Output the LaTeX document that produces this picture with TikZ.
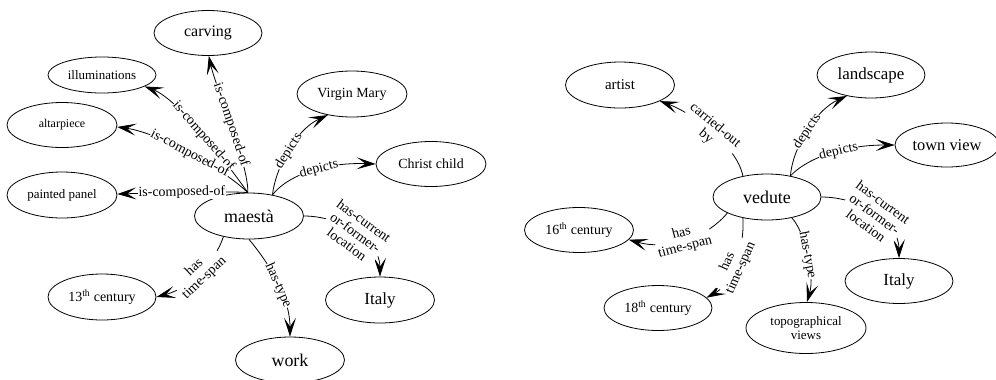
\documentclass[tikz,border=0pt]{standalone}
\usepackage{fontspec}
\setmainfont{Liberation Serif}
\usetikzlibrary{shapes.geometric,arrows.meta}
\newcommand{\fs}[1]{\fontsize{#1}{#1}\selectfont}
\begin{document}
\begin{tikzpicture}[x=1bp,y=-1bp,
  nd/.style={ellipse,draw,line width=0.8bp,inner sep=0pt,minimum width=109bp,minimum height=46bp,align=center},
  edge/.style={line width=0.8bp,-{Stealth[length=19pt,width=12pt,inset=9pt]}},
  lbl/.style={sloped,fill=white,inner sep=0.5bp,align=center,font=\fontsize{14}{14.5}\selectfont},
  ]
\useasboundingbox (0,0) rectangle (996,379);
% left graph
\node[nd,font=\fs{18}] (maesta) at (249,216) {maestà};
\node[nd,minimum width=108bp,minimum height=45bp,font=\fs{16}] (carving) at (208,33) {carving};
\node[nd,minimum width=108bp,minimum height=36bp,font=\fs{13}] (illum) at (102,75) {illuminations};
\node[nd,minimum width=110bp,minimum height=45bp,font=\fs{12}] (altar) at (62,125) {altarpiece};
\node[nd,minimum width=110bp,minimum height=46bp,font=\fs{13}] (painted) at (62,195) {painted panel};
\node[nd,minimum width=110bp,minimum height=46bp,font=\fs{14}] (virgin) at (352,94) {Virgin Mary};
\node[nd,minimum width=110bp,minimum height=45bp,font=\fs{14}] (christ) at (431,164) {Christ child};
\node[nd,font=\fs{17}] (italyL) at (380,300) {Italy};
\node[nd,font=\fs{18}] (work) at (290,360) {work};
\node[nd,minimum width=108bp,font=\fs{14}] (c13) at (102,297) {13\textsuperscript{th} century};
% right graph
\node[nd,minimum width=108bp,font=\fs{18}] (vedute) at (767,197) {vedute};
\node[nd,font=\fs{15}] (artist) at (620,85) {artist};
\node[nd,minimum width=108bp,font=\fs{17}] (landscape) at (871,75) {landscape};
\node[nd,minimum width=104bp,minimum height=44bp,font=\fs{16.5}] (townview) at (947,145) {town view};
\node[nd,minimum height=45bp,font=\fs{14}] (c16) at (579,230) {16\textsuperscript{th} century};
\node[nd,minimum width=108bp,minimum height=45bp,font=\fs{14}] (c18) at (658,308) {18\textsuperscript{th} century};
\node[nd,minimum width=120bp,minimum height=51bp,font=\fontsize{13}{14}\selectfont] (topo) at (806,328) {topographical\\views};
\node[nd,minimum width=108bp,minimum height=45bp,font=\fs{17}] (italyR) at (899,281) {Italy};
% left edges
\draw[edge] (maesta.93) .. controls (249,165) and (215,85) .. (carving.-88) node[lbl,pos=0.5] {is-composed-of};
\draw[edge] (maesta.93) .. controls (232,170) and (180,100) .. (illum.-15) node[lbl,pos=0.5] {is-composed-of};
\draw[edge] (maesta.93) .. controls (225,170) and (160,133) .. (altar.-2) node[lbl,pos=0.5] {is-composed-of};
\draw[edge] (maesta.93) .. controls (235,191) and (150,193) .. (painted.1) node[lbl,pos=0.55] {is-composed-of};
\draw[edge] (maesta.42) .. controls (275,170) and (295,130) .. (virgin.-139) node[lbl,pos=0.5] {depicts};
\draw[edge] (maesta.42) .. controls (285,178) and (320,162) .. (christ.180) node[lbl,pos=0.6] {depicts};
\draw[edge] (maesta.0) .. controls (340,216) and (380,240) .. (italyL.90) node[lbl,pos=0.5] {has-current\\or-former-\\location};
\draw[edge] (maesta.-90) .. controls (258,250) and (290,290) .. (work.90) node[lbl,pos=0.6] {has-type};
\draw[edge] (maesta.-141) .. controls (215,262) and (190,288) .. (c13.0) node[lbl,pos=0.5] {has\\time-span};
% right edges
\draw[edge] (vedute.139) .. controls (737,145) and (690,112) .. (artist.-22) node[lbl,pos=0.5] {carried-out\\by};
\draw[edge] (vedute.42) .. controls (792,150) and (815,110) .. (landscape.-139) node[lbl,pos=0.5] {depicts};
\draw[edge] (vedute.42) .. controls (805,160) and (840,145) .. (townview.180) node[lbl,pos=0.6] {depicts};
\draw[edge] (vedute.0) .. controls (860,197) and (899,222) .. (italyR.90) node[lbl,pos=0.5] {has-current\\or-former-\\location};
\draw[edge] (vedute.-40) .. controls (805,232) and (815,275) .. (topo.88) node[lbl,pos=0.5] {has-type};
\draw[edge] (vedute.-158) .. controls (705,240) and (665,250) .. (c16.-11) node[lbl,pos=0.5] {has\\time-span};
\draw[edge] (vedute.-139) .. controls (745,250) and (730,285) .. (c18.12) node[lbl,pos=0.5] {has\\time-span};
\end{tikzpicture}
\end{document}
